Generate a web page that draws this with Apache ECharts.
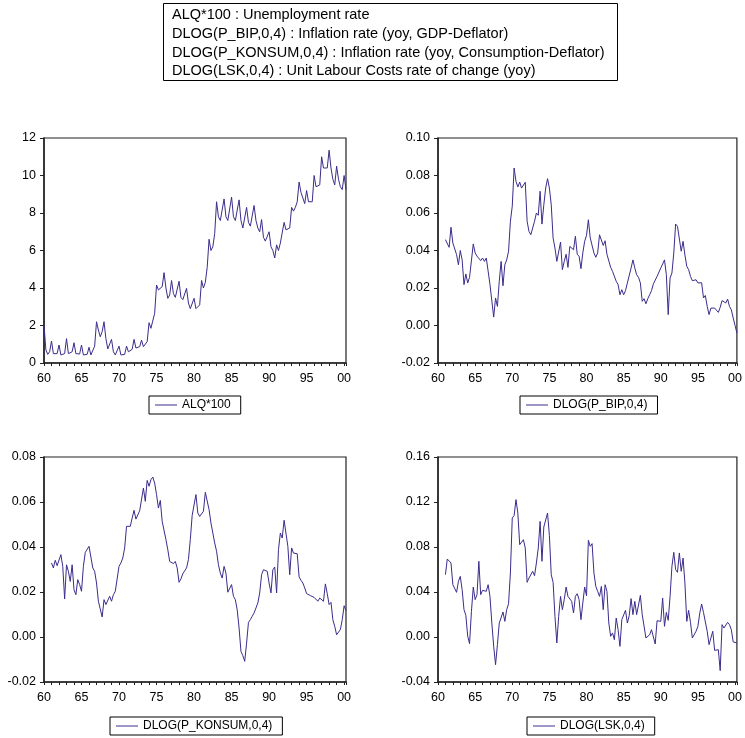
<!DOCTYPE html>
<html>
<head>
<meta charset="utf-8">
<script src="https://cdn.jsdelivr.net/npm/echarts@6/dist/echarts.min.js"></script>
<style>
  html, body { margin: 0; padding: 0; background: #fff; }
  #chart { width: 745px; height: 738px; }
</style>
</head>
<body>
<div id="chart"></div>
<script>
// quarterly data, ALQ starts 1960Q1, the DLOG series start 1961Q1, all end 2000Q2
const alqStart = 1960
const dlogStart = 1961

const headerLines = [
    'ALQ*100 : Unemployment rate',
    'DLOG(P_BIP,0,4) : Inflation rate (yoy, GDP-Deflator)',
    'DLOG(P_KONSUM,0,4) : Inflation rate (yoy, Consumption-Deflator)',
    'DLOG(LSK,0,4) : Unit Labour Costs rate of change (yoy)'
]

const seriesNames = ['ALQ*100', 'DLOG(P_BIP,0,4)', 'DLOG(P_KONSUM,0,4)', 'DLOG(LSK,0,4)']

const alq = [
    2.03, 0.70, 0.46, 0.60, 1.17, 0.50, 0.43, 0.50, 0.96, 0.43, 0.38, 0.50,
    1.30, 0.50, 0.43, 0.60, 1.08, 0.50, 0.40, 0.48, 0.96, 0.43, 0.34, 0.46,
    0.84, 0.43, 0.43, 0.90, 2.20, 1.76, 1.40, 1.67, 2.20, 1.30, 0.75, 0.75,
    1.26, 0.60, 0.43, 0.43, 0.90, 0.43, 0.38, 0.46, 0.90, 0.60, 0.50, 0.73,
    1.26, 0.80, 0.75, 0.87, 1.22, 0.87, 0.80, 1.14, 2.15, 1.85, 1.88, 2.65,
    4.16, 3.90, 3.80, 4.07, 4.82, 4.00, 3.45, 3.63, 4.40, 3.70, 3.50, 3.55,
    4.36, 3.50, 3.38, 3.36, 3.98, 3.20, 2.90, 2.85, 3.45, 2.90, 2.85, 3.10,
    4.40, 4.00, 4.30, 5.10, 6.60, 6.00, 6.20, 6.90, 8.60, 7.80, 7.60, 7.60,
    8.75, 7.80, 7.60, 7.60, 8.85, 7.80, 7.60, 7.60, 8.70, 7.60, 7.20, 7.10,
    8.30, 7.50, 7.30, 7.30, 8.40, 7.60, 7.20, 7.00, 7.65, 6.70, 6.50, 6.50,
    7.00, 6.20, 6.00, 5.60, 6.30, 6.00, 6.40, 6.50, 7.50, 7.10, 7.20, 7.20,
    8.30, 8.10, 8.30, 8.60, 9.65, 9.10, 8.80, 8.50, 9.20, 8.60, 8.60, 8.60,
    10.00, 9.40, 9.40, 9.50, 11.00, 10.40, 10.40, 10.40, 11.35, 10.40, 9.80, 9.50,
    10.50, 9.80, 9.40, 9.25, 10.00, 9.25
]

const pBip = [
    0.0458, 0.0460, 0.0417, 0.0524, 0.0440, 0.0436, 0.0378, 0.0324, 0.0400, 0.0350,
    0.0218, 0.0275, 0.0227, 0.0257, 0.0260, 0.0435, 0.0387, 0.0370, 0.0370, 0.0346,
    0.0360, 0.0342, 0.0360, 0.0290, 0.0218, 0.0220, 0.0045, 0.0147, 0.0102, 0.0236,
    0.0342, 0.0212, 0.0324, 0.0350, 0.0396, 0.0556, 0.0636, 0.0840, 0.0769, 0.0739,
    0.0765, 0.0733, 0.0724, 0.0764, 0.0556, 0.0502, 0.0484, 0.0520, 0.0556, 0.0600,
    0.0588, 0.0716, 0.0541, 0.0644, 0.0733, 0.0783, 0.0733, 0.0644, 0.0467, 0.0413,
    0.0342,
    0.0350, 0.0445, 0.0298, 0.0342, 0.0380, 0.0310, 0.0422, 0.0413, 0.0404, 0.0476,
    0.0380, 0.0369, 0.0303, 0.0387, 0.0449, 0.0481, 0.0564, 0.0467, 0.0458, 0.0387,
    0.0364, 0.0387, 0.0484, 0.0493, 0.0427, 0.0452, 0.0380, 0.0376, 0.0310, 0.0289,
    0.0298, 0.0236, 0.0218, 0.0164, 0.0191, 0.0164, 0.0186, 0.0227, 0.0236, 0.0307,
    0.0350, 0.0307, 0.0271, 0.0257, 0.0227, 0.0129, 0.0143, 0.0116, 0.0143, 0.0164,
    0.0186, 0.0222, 0.0214, 0.0262, 0.0257, 0.0307, 0.0328, 0.0350, 0.0271, 0.0058,
    0.0253, 0.0280, 0.0387, 0.0541, 0.0529, 0.0524, 0.0396, 0.0449, 0.0376, 0.0316,
    0.0298, 0.0262, 0.0239, 0.0244, 0.0244, 0.0227, 0.0223, 0.0228, 0.0147, 0.0160,
    0.0102, 0.0058, 0.0093, 0.0090, 0.0093, 0.0084, 0.0070, 0.0097, 0.0133, 0.0129,
    0.0120, 0.0141, 0.0102, 0.0084, 0.0040, 0.0000, -0.0040
]

const pKonsum = [
    0.0329, 0.0307, 0.0341, 0.0317, 0.0324, 0.0366, 0.0314, 0.0169, 0.0321, 0.0292,
    0.0247, 0.0321, 0.0210, 0.0188, 0.0255, 0.0233, 0.0203, 0.0314, 0.0376, 0.0373,
    0.0403, 0.0403, 0.0307, 0.0292, 0.0240, 0.0159, 0.0159, 0.0089, 0.0166, 0.0144,
    0.0148, 0.0181, 0.0159, 0.0188, 0.0203, 0.0196, 0.0314, 0.0329, 0.0351, 0.0396,
    0.0492, 0.0484, 0.0492, 0.0529, 0.0563, 0.0524, 0.0521, 0.0561, 0.0558, 0.0662,
    0.0603, 0.0696, 0.0670, 0.0699, 0.0711, 0.0684, 0.0633, 0.0573, 0.0607, 0.0514,
    0.0507, 0.0433, 0.0388, 0.0336, 0.0329, 0.0326, 0.0336, 0.0307, 0.0243, 0.0258,
    0.0281, 0.0277, 0.0307, 0.0344, 0.0433,
    0.0541, 0.0539, 0.0633, 0.0551, 0.0536, 0.0529, 0.0559, 0.0643, 0.0643, 0.0566,
    0.0507, 0.0514, 0.0418, 0.0381, 0.0321, 0.0284, 0.0262, 0.0314, 0.0284, 0.0199,
    0.0203, 0.0233, 0.0181, 0.0166, 0.0121, 0.0040, -0.0064, -0.0083, -0.0108, -0.0027,
    0.0065, 0.0077, 0.0092, 0.0107, 0.0129, 0.0151, 0.0196, 0.0277, 0.0299, 0.0296,
    0.0292, 0.0240, 0.0196, 0.0299, 0.0311, 0.0196, 0.0388, 0.0462, 0.0440, 0.0519,
    0.0521, 0.0403, 0.0277, 0.0396, 0.0373, 0.0370, 0.0370, 0.0267, 0.0252, 0.0240,
    0.0218, 0.0193, 0.0193, 0.0184, 0.0178, 0.0176, 0.0169, 0.0159, 0.0173, 0.0173,
    0.0159, 0.0236, 0.0193, 0.0144, 0.0154, 0.0077, 0.0047, 0.0010, 0.0018, 0.0033,
    0.0077, 0.0139, 0.0117
]

const lsk = [
    0.0554, 0.0693, 0.0702, 0.0658, 0.0465, 0.0450, 0.0397, 0.0495, 0.0539, 0.0421,
    0.0243, 0.0193, 0.0006, -0.0059, 0.0225, 0.0444, 0.0332, 0.0376, 0.0673, 0.0376,
    0.0415, 0.0406, 0.0406, 0.0465, 0.0361, 0.0124, -0.0083, -0.0246, -0.0068, 0.0124,
    0.0139, 0.0222, 0.0139, 0.0243, 0.0296, 0.0569, 0.1058, 0.1079, 0.1221, 0.1102,
    0.0821, 0.0806, 0.0865, 0.0791, 0.0486, 0.0524, 0.0530, 0.0584, 0.0545, 0.0658,
    0.0791, 0.1028, 0.0673, 0.0978, 0.0975, 0.1102, 0.0901, 0.0554, 0.0486, 0.0184,
    -0.0053,
    0.0184, 0.0361, 0.0243, 0.0332, 0.0444, 0.0361, 0.0361, 0.0317, 0.0213, 0.0361,
    0.0385, 0.0332, 0.0154, 0.0302, 0.0444, 0.0367, 0.0859, 0.0806, 0.0830, 0.0569,
    0.0450, 0.0406, 0.0361, 0.0450, 0.0243, 0.0465, 0.0406, 0.0124, 0.0006, 0.0036,
    -0.0024, 0.0169, 0.0065, -0.0083, 0.0154, 0.0139, 0.0237, 0.0124, 0.0190, 0.0341,
    0.0199, 0.0317, 0.0199, 0.0190, 0.0370, 0.0199, 0.0199, -0.0009, -0.0009, 0.0020,
    0.0065, 0.0074, -0.0062, 0.0145, 0.0130, 0.0139, 0.0347, 0.0095, 0.0219, 0.0148,
    0.0361, 0.0628, 0.0753, 0.0599, 0.0575, 0.0747, 0.0584, 0.0702, 0.0480, 0.0139,
    0.0237, 0.0130, -0.0009, 0.0006, 0.0051, 0.0095, 0.0213, 0.0293, 0.0219, 0.0219,
    0.0051, -0.0068, -0.0068, 0.0051, -0.0119, -0.0119, -0.0113, -0.0299, 0.0110, 0.0080,
    0.0071, 0.0130, 0.0110, 0.0065, -0.0044, -0.0033, -0.0053
]

// y axis ranges per panel: [min, max, interval, decimals]
const yRanges = [
    [0, 12, 2, 0],
    [-0.02, 0.10, 0.02, 2],
    [-0.02, 0.08, 0.02, 2],
    [-0.04, 0.16, 0.04, 2]
]

const lineColor = '#3b2c8c'
const font = 'Liberation Sans, Arial, sans-serif'

// panel boxes (px) and legend positions
const panels = [
    { left: 44, top: 138, width: 302, height: 225, legend: { left: 149, top: 396 } },
    { left: 438, top: 138, width: 301, height: 225, legend: { left: 520, top: 396 } },
    { left: 44, top: 457, width: 302, height: 225, legend: { left: 110, top: 717 } },
    { left: 438, top: 457, width: 301, height: 225, legend: { left: 527, top: 717 } }
]

function toPairs(values, startYear) {
    return values.map((v, i) => [startYear + i / 4, v])
}

const seriesData = [
    toPairs(alq, alqStart),
    toPairs(pBip, dlogStart),
    toPairs(pKonsum, dlogStart),
    toPairs(lsk, dlogStart)
]

const chart = echarts.init(document.getElementById('chart'), null, { renderer: 'canvas' })

const option = {
    animation: false,
    backgroundColor: '#fff',
    textStyle: { fontFamily: font, color: '#000' },
    title: {
        text: headerLines.join('\n'),
        left: 163,
        top: 3,
        padding: [3, 13, 0, 9],
        borderColor: '#000',
        borderWidth: 1,
        textStyle: { fontFamily: font, fontSize: 14.5, fontWeight: 'normal', lineHeight: 18.7, color: '#000' }
    },
    grid: panels.map(p => ({
        left: p.left, top: p.top, width: p.width, height: p.height,
        show: true, borderColor: '#222', borderWidth: 1.2, containLabel: false
    })),
    xAxis: panels.map((p, k) => ({
        type: 'value',
        gridIndex: k,
        min: 1960,
        max: 2000.25,
        interval: 1,
        axisLine: { onZero: false, lineStyle: { color: '#222', width: 1.5 } },
        axisTick: { show: true, length: 3, lineStyle: { color: '#222' } },
        axisLabel: {
            color: '#000', fontSize: 12.5, fontFamily: font, margin: 9,
            formatter: v => (Math.abs(v % 5) < 1e-6 ? String(v % 100).padStart(2, '0') : '')
        },
        splitLine: { show: false }
    })),
    yAxis: yRanges.map((r, k) => ({
        type: 'value',
        gridIndex: k,
        min: r[0],
        max: r[1],
        interval: r[2],
        axisLine: { show: true, lineStyle: { color: '#222', width: 1.5 } },
        axisTick: { show: true, length: 4, lineStyle: { color: '#222' } },
        axisLabel: {
            color: '#000', fontSize: 12.5, fontFamily: font, margin: 8,
            formatter: v => v.toFixed(r[3])
        },
        splitLine: { show: false }
    })),
    legend: panels.map((p, k) => ({
        data: [seriesNames[k]],
        left: p.legend.left,
        top: p.legend.top,
        padding: [3, 10, 3, 6],
        borderColor: '#000',
        borderWidth: 1,
        borderRadius: 0,
        icon: 'rect',
        itemWidth: 22,
        itemHeight: 1,
        itemGap: 4,
        textStyle: { fontFamily: font, fontSize: 12, color: '#000', padding: [0, 0, 0, 0] }
    })),
    series: seriesData.map((d, k) => ({
        name: seriesNames[k],
        type: 'line',
        xAxisIndex: k,
        yAxisIndex: k,
        data: d,
        symbol: 'none',
        color: lineColor,
        lineStyle: { width: 1, color: lineColor }
    }))
}

chart.setOption(option)
</script>
</body>
</html>
